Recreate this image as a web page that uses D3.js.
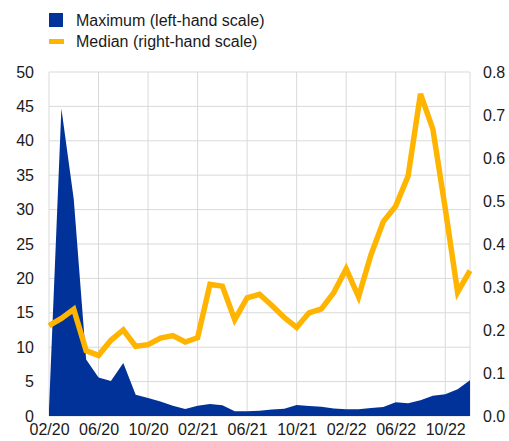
<!DOCTYPE html>
<html>
<head>
<meta charset="utf-8">
<title>Maximum and median</title>
<script src="https://d3js.org/d3.v7.min.js"></script>
<style>
  body { margin: 0; background: #fff; }
  text { font-family: "Liberation Sans", Arial, sans-serif; fill: #1a1a1a; }
</style>
</head>
<body>
<div id="chart"></div>
<script>
// monthly observations, Feb 2020 - Dec 2022
const months = ["02/20","03/20","04/20","05/20","06/20","07/20","08/20","09/20","10/20","11/20","12/20",
  "01/21","02/21","03/21","04/21","05/21","06/21","07/21","08/21","09/21","10/21","11/21","12/21",
  "01/22","02/22","03/22","04/22","05/22","06/22","07/22","08/22","09/22","10/22","11/22","12/22"];
const maximum = [1, 44.7, 31.5, 8.2, 5.6, 5.1, 7.7, 3.1, 2.6, 2.1, 1.5,
  1.0, 1.5, 1.75, 1.55, 0.7, 0.7, 0.75, 0.95, 1.05, 1.6, 1.45, 1.35,
  1.1, 0.97, 0.97, 1.15, 1.3, 2.0, 1.85, 2.3, 2.95, 3.15, 3.9, 5.2];
const median = [0.21, 0.227, 0.248, 0.152, 0.141, 0.176, 0.2, 0.162, 0.166, 0.181, 0.187,
  0.172, 0.182, 0.306, 0.302, 0.224, 0.275, 0.283, 0.257, 0.229, 0.206, 0.24, 0.249,
  0.287, 0.342, 0.277, 0.375, 0.452, 0.488, 0.558, 0.749, 0.667, 0.483, 0.288, 0.338];
const xTicks = ["02/20","06/20","10/20","02/21","06/21","10/21","02/22","06/22","10/22"];
const leftTicks = [0, 5, 10, 15, 20, 25, 30, 35, 40, 45, 50];
const rightTicks = [0, 0.1, 0.2, 0.3, 0.4, 0.5, 0.6, 0.7, 0.8];

const w = 509, h = 441;
const margin = {top: 72, right: 39, bottom: 25, left: 49};
const blue = "#003299", yellow = "#ffb400", grid = "#d9d9d9";

const svg = d3.select("#chart").append("svg")
  .attr("width", w).attr("height", h);

const x = d3.scalePoint().domain(months).range([margin.left, w - margin.right]);
const yL = d3.scaleLinear().domain([0, 50]).range([h - margin.bottom, margin.top]);
const yR = d3.scaleLinear().domain([0, 0.8]).range([h - margin.bottom, margin.top]);

// grid
svg.append("g").selectAll("line").data(leftTicks).join("line")
  .attr("x1", margin.left).attr("x2", w - margin.right)
  .attr("y1", d => yL(d)).attr("y2", d => yL(d))
  .attr("stroke", grid).attr("stroke-width", 1);
svg.append("g").selectAll("line").data(xTicks.concat(["12/22"])).join("line")
  .attr("x1", d => x(d)).attr("x2", d => x(d))
  .attr("y1", margin.top).attr("y2", h - margin.bottom)
  .attr("stroke", grid).attr("stroke-width", 1);

// maximum as area
const area = d3.area()
  .x((d, i) => x(months[i]))
  .y0(yL(0))
  .y1(d => yL(d));
svg.append("path").datum(maximum)
  .attr("d", area).attr("fill", blue);

// median as line
const line = d3.line()
  .x((d, i) => x(months[i]))
  .y(d => yR(d));
svg.append("path").datum(median)
  .attr("d", line).attr("fill", "none")
  .attr("stroke", yellow).attr("stroke-width", 5.5);

// axes (labels only)
const leftAxis = d3.axisLeft(yL).tickValues(leftTicks).tickSize(0).tickPadding(15);
svg.append("g").attr("transform", `translate(${margin.left},0)`).call(leftAxis)
  .call(g => g.select(".domain").remove())
  .selectAll("text").style("font-size", "16px").attr("fill", "#1a1a1a");

const rightAxis = d3.axisRight(yR).tickValues(rightTicks).tickSize(0).tickPadding(13)
  .tickFormat(d3.format(".1f"));
svg.append("g").attr("transform", `translate(${w - margin.right},0)`).call(rightAxis)
  .call(g => g.select(".domain").remove())
  .selectAll("text").style("font-size", "16px").attr("fill", "#1a1a1a");

const bottomAxis = d3.axisBottom(x).tickValues(xTicks).tickSize(0).tickPadding(8);
svg.append("g").attr("transform", `translate(0,${h - margin.bottom})`).call(bottomAxis)
  .call(g => g.select(".domain").remove())
  .selectAll("text").style("font-size", "16px").attr("fill", "#1a1a1a");

// legend
const legend = svg.append("g");
legend.append("rect").attr("x", 49).attr("y", 13).attr("width", 14).attr("height", 14).attr("fill", blue);
legend.append("text").attr("x", 76).attr("y", 26).style("font-size", "16px").text("Maximum (left-hand scale)");
legend.append("rect").attr("x", 49).attr("y", 39).attr("width", 15).attr("height", 5).attr("fill", yellow);
legend.append("text").attr("x", 76).attr("y", 47).style("font-size", "16px").text("Median (right-hand scale)");
</script>
</body>
</html>
